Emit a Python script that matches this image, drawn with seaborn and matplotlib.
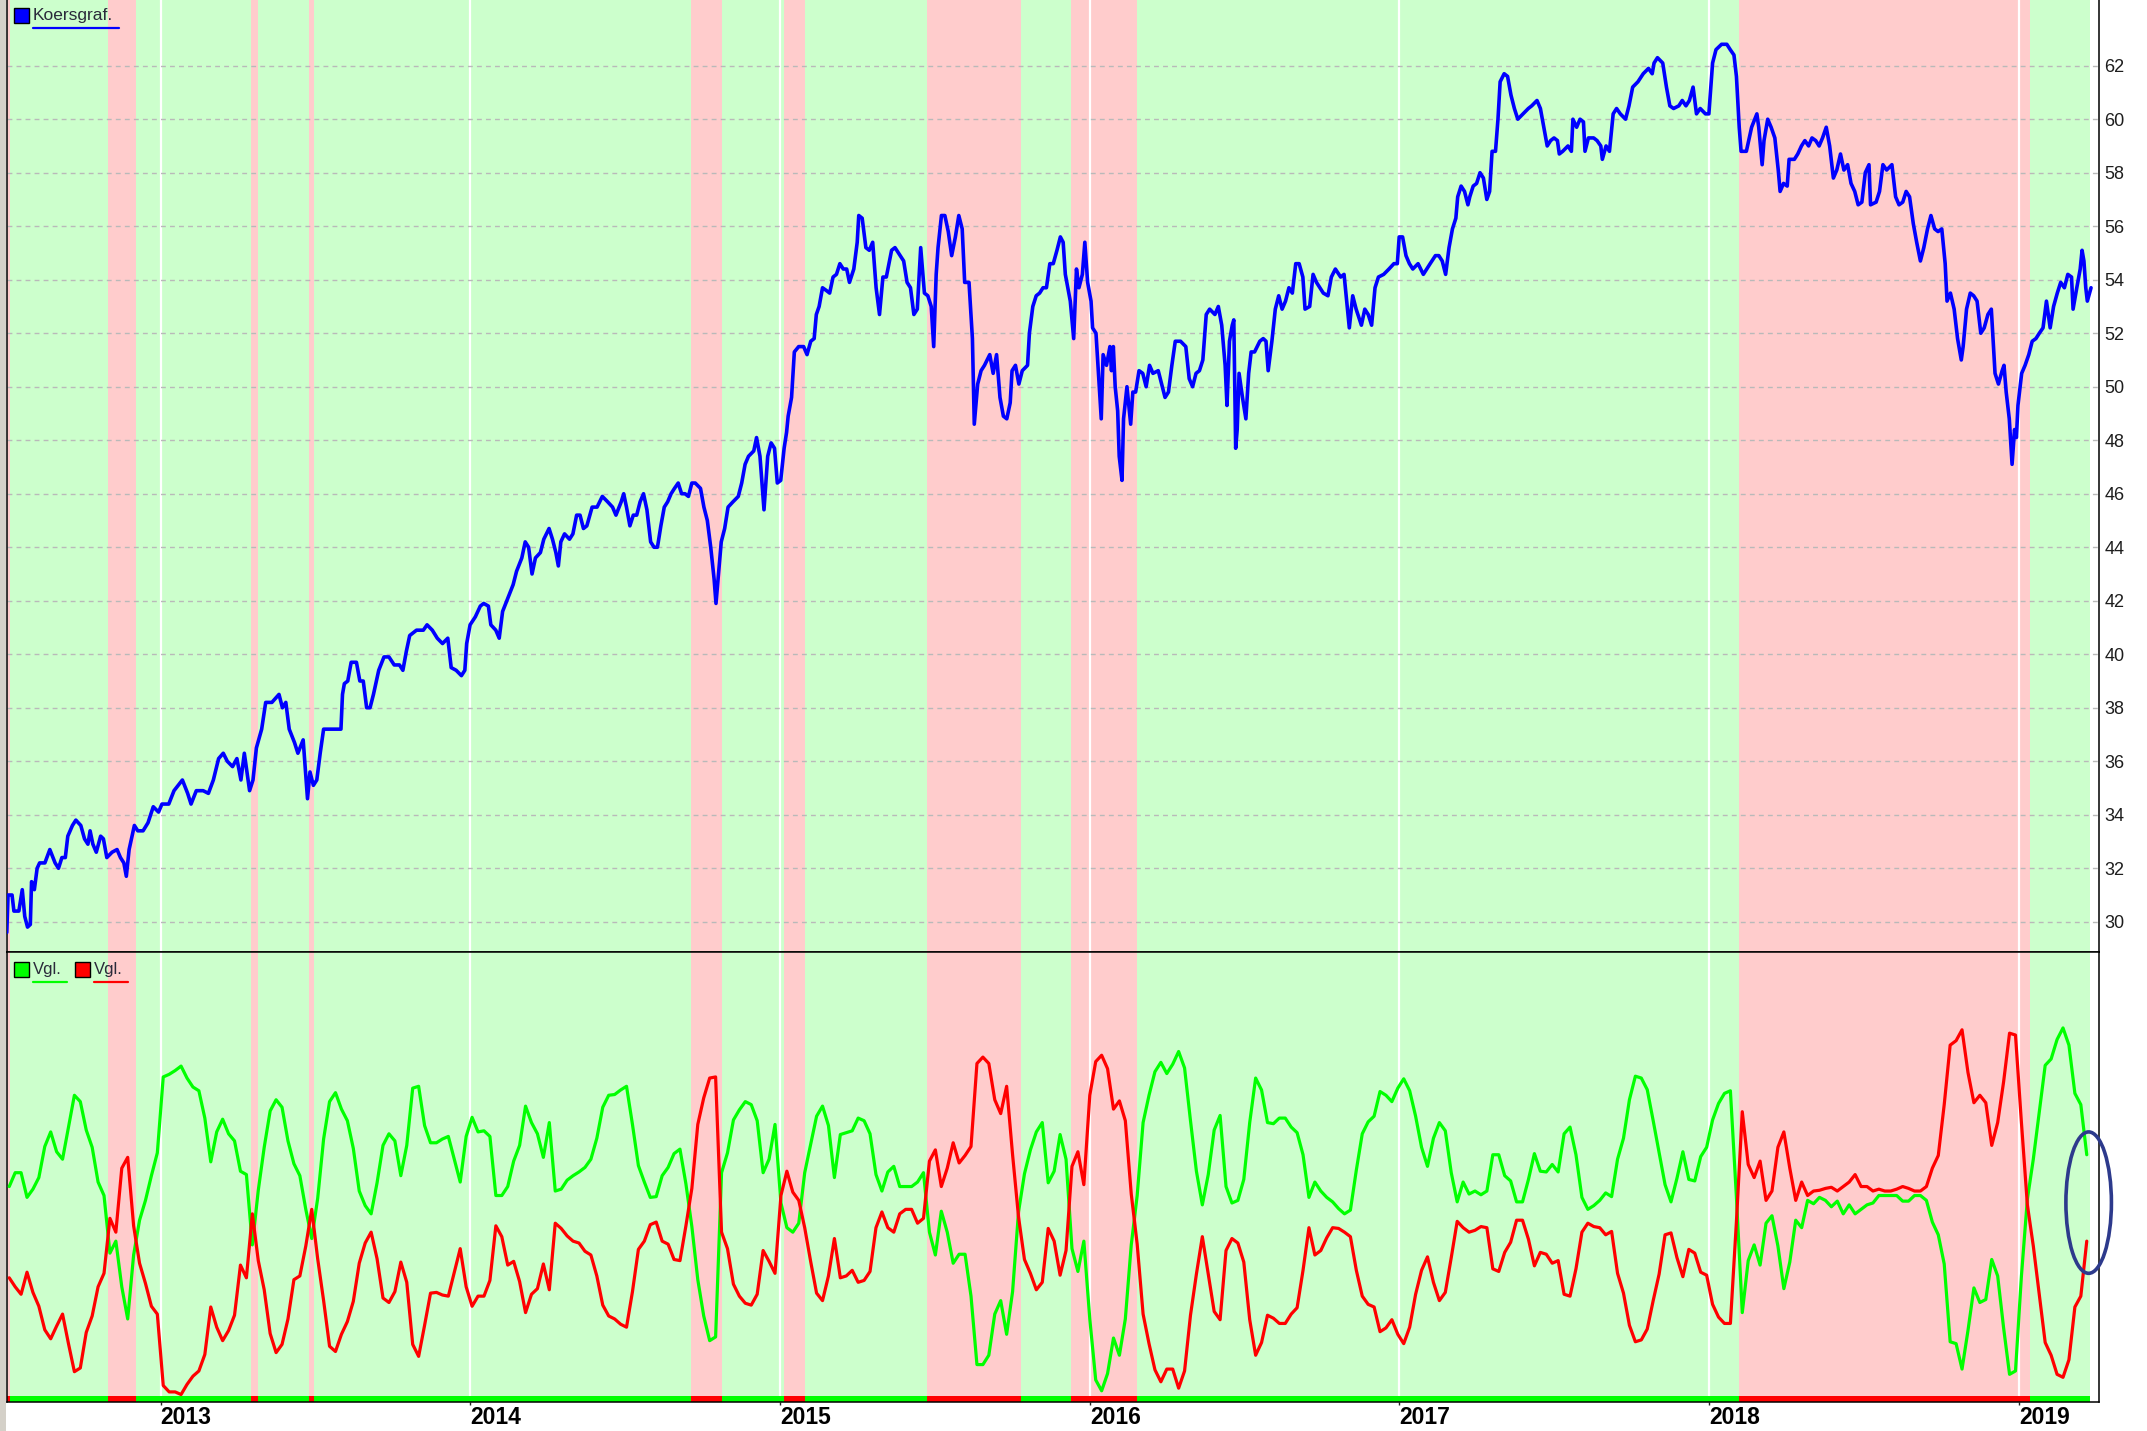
import numpy as np
import pandas as pd
import matplotlib
matplotlib.use('Agg')
import matplotlib.pyplot as plt
from matplotlib.patches import Rectangle, Ellipse
from matplotlib.lines import Line2D
import seaborn as sns

sns.set_style('white')
plt.rcParams['font.family'] = ['Liberation Sans', 'DejaVu Sans']

# ---- data ----
years = [2013, 2014, 2015, 2016, 2017, 2018, 2019]
price_ticks = list(range(30, 63, 2))

# periods with a sell signal (red background)
sell_periods = [(2012.504, 2012.513), (2012.829, 2012.920), (2013.292, 2013.313),
                (2013.479, 2013.496), (2014.713, 2014.812), (2015.011, 2015.079),
                (2015.473, 2015.777), (2015.939, 2016.153), (2018.097, 2019.035)]
signal_start = 2012.5037
signal_end = 2019.230

# koersgrafiek (decimal year, close)
price_year = [
    2012.503, 2012.507, 2012.520, 2012.526, 2012.542, 2012.553, 2012.561, 2012.570,
    2012.579, 2012.583, 2012.592, 2012.601, 2012.609, 2012.626, 2012.642, 2012.659,
    2012.670, 2012.681, 2012.692, 2012.700, 2012.715, 2012.726, 2012.742, 2012.754,
    2012.765, 2012.772, 2012.781, 2012.792, 2012.806, 2012.815, 2012.826, 2012.843,
    2012.859, 2012.870, 2012.881, 2012.889, 2012.898, 2012.915, 2012.926, 2012.943,
    2012.959, 2012.976, 2012.993, 2013.004, 2013.026, 2013.043, 2013.070, 2013.087,
    2013.098, 2013.115, 2013.137, 2013.154, 2013.170, 2013.187, 2013.202, 2013.215,
    2013.232, 2013.246, 2013.259, 2013.270, 2013.287, 2013.298, 2013.309, 2013.326,
    2013.339, 2013.359, 2013.382, 2013.393, 2013.404, 2013.415, 2013.432, 2013.443,
    2013.460, 2013.474, 2013.482, 2013.493, 2013.504, 2013.515, 2013.526, 2013.548,
    2013.571, 2013.582, 2013.587, 2013.593, 2013.604, 2013.615, 2013.632, 2013.643,
    2013.654, 2013.665, 2013.676, 2013.687, 2013.704, 2013.721, 2013.737, 2013.754,
    2013.771, 2013.782, 2013.793, 2013.804, 2013.826, 2013.848, 2013.860, 2013.877,
    2013.893, 2013.910, 2013.927, 2013.938, 2013.954, 2013.971, 2013.982, 2013.988,
    2013.999, 2014.016, 2014.032, 2014.043, 2014.058, 2014.066, 2014.082, 2014.093,
    2014.104, 2014.121, 2014.138, 2014.149, 2014.166, 2014.177, 2014.188, 2014.199,
    2014.210, 2014.226, 2014.237, 2014.254, 2014.265, 2014.276, 2014.284, 2014.292,
    2014.304, 2014.320, 2014.331, 2014.343, 2014.354, 2014.365, 2014.376, 2014.393,
    2014.409, 2014.426, 2014.443, 2014.459, 2014.470, 2014.487, 2014.495, 2014.504,
    2014.515, 2014.526, 2014.537, 2014.548, 2014.559, 2014.570, 2014.582, 2014.593,
    2014.604, 2014.615, 2014.626, 2014.637, 2014.648, 2014.659, 2014.671, 2014.682,
    2014.693, 2014.704, 2014.715, 2014.726, 2014.743, 2014.754, 2014.765, 2014.776,
    2014.787, 2014.793, 2014.802, 2014.810, 2014.821, 2014.832, 2014.848, 2014.865,
    2014.876, 2014.887, 2014.898, 2014.915, 2014.924, 2014.935, 2014.948, 2014.960,
    2014.971, 2014.982, 2014.991, 2015.002, 2015.013, 2015.021, 2015.026, 2015.037,
    2015.046, 2015.060, 2015.076, 2015.087, 2015.099, 2015.110, 2015.117, 2015.126,
    2015.137, 2015.149, 2015.160, 2015.171, 2015.182, 2015.193, 2015.204, 2015.215,
    2015.224, 2015.238, 2015.249, 2015.254, 2015.265, 2015.277, 2015.288, 2015.299,
    2015.310, 2015.321, 2015.332, 2015.343, 2015.360, 2015.371, 2015.388, 2015.399,
    2015.410, 2015.421, 2015.432, 2015.443, 2015.454, 2015.466, 2015.477, 2015.488,
    2015.496, 2015.504, 2015.510, 2015.521, 2015.532, 2015.543, 2015.554, 2015.566,
    2015.577, 2015.588, 2015.596, 2015.610, 2015.621, 2015.627, 2015.638, 2015.649,
    2015.660, 2015.677, 2015.688, 2015.699, 2015.710, 2015.721, 2015.732, 2015.743,
    2015.749, 2015.760, 2015.771, 2015.782, 2015.799, 2015.805, 2015.816, 2015.827,
    2015.838, 2015.849, 2015.860, 2015.871, 2015.882, 2015.894, 2015.905, 2015.914,
    2015.921, 2015.932, 2015.937, 2015.948, 2015.957, 2015.965, 2015.976, 2015.984,
    2015.993, 2016.004, 2016.009, 2016.020, 2016.028, 2016.037, 2016.043, 2016.054,
    2016.065, 2016.070, 2016.076, 2016.082, 2016.090, 2016.095, 2016.104, 2016.109,
    2016.120, 2016.132, 2016.139, 2016.148, 2016.159, 2016.171, 2016.182, 2016.193,
    2016.204, 2016.221, 2016.232, 2016.243, 2016.254, 2016.265, 2016.276, 2016.293,
    2016.310, 2016.321, 2016.332, 2016.343, 2016.354, 2016.365, 2016.376, 2016.387,
    2016.404, 2016.415, 2016.426, 2016.437, 2016.443, 2016.451, 2016.460, 2016.465,
    2016.471, 2016.476, 2016.482, 2016.493, 2016.504, 2016.513, 2016.521, 2016.532,
    2016.549, 2016.560, 2016.569, 2016.576, 2016.588, 2016.599, 2016.610, 2016.621,
    2016.632, 2016.643, 2016.654, 2016.665, 2016.676, 2016.688, 2016.695, 2016.710,
    2016.721, 2016.732, 2016.743, 2016.754, 2016.769, 2016.780, 2016.793, 2016.810,
    2016.821, 2016.832, 2016.838, 2016.849, 2016.860, 2016.877, 2016.888, 2016.899,
    2016.910, 2016.921, 2016.932, 2016.949, 2016.966, 2016.982, 2016.993, 2016.999,
    2017.010, 2017.021, 2017.032, 2017.043, 2017.060, 2017.077, 2017.088, 2017.099,
    2017.116, 2017.127, 2017.138, 2017.149, 2017.160, 2017.171, 2017.182, 2017.188,
    2017.199, 2017.210, 2017.221, 2017.227, 2017.238, 2017.249, 2017.260, 2017.271,
    2017.282, 2017.291, 2017.299, 2017.310, 2017.318, 2017.325, 2017.338, 2017.349,
    2017.360, 2017.371, 2017.382, 2017.399, 2017.416, 2017.427, 2017.444, 2017.455,
    2017.466, 2017.477, 2017.488, 2017.499, 2017.510, 2017.516, 2017.527, 2017.544,
    2017.555, 2017.560, 2017.572, 2017.583, 2017.594, 2017.599, 2017.610, 2017.627,
    2017.638, 2017.650, 2017.655, 2017.667, 2017.678, 2017.690, 2017.701, 2017.713,
    2017.730, 2017.741, 2017.753, 2017.770, 2017.787, 2017.804, 2017.816, 2017.822,
    2017.833, 2017.850, 2017.862, 2017.873, 2017.885, 2017.902, 2017.913, 2017.925,
    2017.936, 2017.948, 2017.959, 2017.971, 2017.988, 2017.999, 2018.011, 2018.022,
    2018.040, 2018.057, 2018.068, 2018.080, 2018.088, 2018.097, 2018.103, 2018.120,
    2018.137, 2018.154, 2018.160, 2018.171, 2018.177, 2018.189, 2018.200, 2018.212,
    2018.223, 2018.229, 2018.240, 2018.252, 2018.258, 2018.275, 2018.286, 2018.298,
    2018.309, 2018.321, 2018.332, 2018.344, 2018.355, 2018.366, 2018.378, 2018.389,
    2018.401, 2018.412, 2018.424, 2018.435, 2018.447, 2018.458, 2018.470, 2018.481,
    2018.493, 2018.504, 2018.516, 2018.521, 2018.539, 2018.550, 2018.561, 2018.573,
    2018.590, 2018.602, 2018.613, 2018.625, 2018.636, 2018.647, 2018.659, 2018.670,
    2018.682, 2018.693, 2018.705, 2018.716, 2018.728, 2018.739, 2018.751, 2018.762,
    2018.768, 2018.779, 2018.791, 2018.802, 2018.814, 2018.820, 2018.831, 2018.843,
    2018.854, 2018.865, 2018.877, 2018.888, 2018.900, 2018.911, 2018.923, 2018.934,
    2018.946, 2018.952, 2018.959, 2018.969, 2018.978, 2018.986, 2018.992, 2018.997,
    2019.009, 2019.020, 2019.032, 2019.043, 2019.055, 2019.066, 2019.078, 2019.089,
    2019.101, 2019.112, 2019.124, 2019.135, 2019.147, 2019.158, 2019.170, 2019.175,
    2019.187, 2019.198, 2019.204, 2019.210, 2019.216, 2019.221, 2019.233]
price_close = [
    29.6, 31.0, 31.0, 30.4, 30.4, 31.2, 30.2, 29.8,
    29.9, 31.5, 31.2, 32.0, 32.2, 32.2, 32.7, 32.2,
    32.0, 32.4, 32.4, 33.2, 33.6, 33.8, 33.6, 33.1,
    32.9, 33.4, 32.9, 32.6, 33.2, 33.1, 32.4, 32.6,
    32.7, 32.4, 32.2, 31.7, 32.7, 33.6, 33.4, 33.4,
    33.7, 34.3, 34.1, 34.4, 34.4, 34.9, 35.3, 34.8,
    34.4, 34.9, 34.9, 34.8, 35.3, 36.1, 36.3, 36.0,
    35.8, 36.1, 35.3, 36.3, 34.9, 35.3, 36.5, 37.2,
    38.2, 38.2, 38.5, 38.0, 38.2, 37.2, 36.7, 36.3,
    36.8, 34.6, 35.6, 35.1, 35.3, 36.3, 37.2, 37.2,
    37.2, 37.2, 38.5, 38.9, 39.0, 39.7, 39.7, 39.0,
    39.0, 38.0, 38.0, 38.5, 39.4, 39.9, 39.9, 39.6,
    39.6, 39.4, 40.1, 40.7, 40.9, 40.9, 41.1, 40.9,
    40.6, 40.4, 40.6, 39.5, 39.4, 39.2, 39.4, 40.4,
    41.1, 41.4, 41.8, 41.9, 41.8, 41.1, 40.9, 40.6,
    41.6, 42.1, 42.6, 43.1, 43.6, 44.2, 44.0, 43.0,
    43.6, 43.8, 44.3, 44.7, 44.3, 43.8, 43.3, 44.2,
    44.5, 44.3, 44.5, 45.2, 45.2, 44.7, 44.8, 45.5,
    45.5, 45.9, 45.7, 45.5, 45.2, 45.7, 46.0, 45.5,
    44.8, 45.2, 45.2, 45.7, 46.0, 45.4, 44.2, 44.0,
    44.0, 44.8, 45.5, 45.7, 46.0, 46.2, 46.4, 46.0,
    46.0, 45.9, 46.4, 46.4, 46.2, 45.5, 45.0, 44.0,
    42.8, 41.9, 43.1, 44.2, 44.7, 45.5, 45.7, 45.9,
    46.4, 47.1, 47.4, 47.6, 48.1, 47.4, 45.4, 47.4,
    47.9, 47.7, 46.4, 46.5, 47.7, 48.3, 48.9, 49.6,
    51.3, 51.5, 51.5, 51.2, 51.7, 51.8, 52.7, 53.0,
    53.7, 53.6, 53.5, 54.1, 54.2, 54.6, 54.4, 54.4,
    53.9, 54.4, 55.4, 56.4, 56.3, 55.2, 55.1, 55.4,
    53.7, 52.7, 54.1, 54.1, 55.1, 55.2, 54.9, 54.7,
    53.9, 53.7, 52.7, 52.9, 55.2, 53.5, 53.4, 53.0,
    51.5, 54.2, 55.2, 56.4, 56.4, 55.8, 54.9, 55.6,
    56.4, 55.9, 53.9, 53.9, 51.8, 48.6, 50.1, 50.6,
    50.8, 51.2, 50.5, 51.2, 49.6, 48.9, 48.8, 49.4,
    50.6, 50.8, 50.1, 50.6, 50.8, 52.0, 53.0, 53.4,
    53.5, 53.7, 53.7, 54.6, 54.6, 55.1, 55.6, 55.4,
    54.2, 53.5, 53.2, 51.8, 54.4, 53.7, 54.2, 55.4,
    53.9, 53.2, 52.2, 52.0, 50.5, 48.8, 51.2, 50.8,
    51.5, 50.6, 51.5, 50.0, 49.1, 47.4, 46.5, 48.8,
    50.0, 48.6, 49.8, 49.8, 50.6, 50.5, 50.0, 50.8,
    50.5, 50.6, 50.1, 49.6, 49.8, 50.8, 51.7, 51.7,
    51.5, 50.3, 50.0, 50.5, 50.6, 51.0, 52.7, 52.9,
    52.7, 53.0, 52.3, 50.8, 49.3, 51.7, 52.3, 52.5,
    47.7, 48.4, 50.5, 49.6, 48.8, 50.5, 51.3, 51.3,
    51.7, 51.8, 51.7, 50.6, 51.7, 52.9, 53.4, 52.9,
    53.2, 53.7, 53.5, 54.6, 54.6, 54.1, 52.9, 53.0,
    54.2, 53.9, 53.7, 53.5, 53.4, 54.1, 54.4, 54.1,
    54.2, 52.9, 52.2, 53.4, 52.9, 52.3, 52.9, 52.7,
    52.3, 53.7, 54.1, 54.2, 54.4, 54.6, 54.6, 55.6,
    55.6, 54.9, 54.6, 54.4, 54.6, 54.2, 54.4, 54.6,
    54.9, 54.9, 54.7, 54.2, 55.2, 55.9, 56.3, 57.1,
    57.5, 57.3, 56.8, 57.1, 57.5, 57.6, 58.0, 57.8,
    57.0, 57.3, 58.8, 58.8, 60.0, 61.4, 61.7, 61.6,
    60.9, 60.4, 60.0, 60.2, 60.4, 60.5, 60.7, 60.4,
    59.7, 59.0, 59.2, 59.3, 59.2, 58.7, 58.8, 59.0,
    58.8, 60.0, 59.7, 60.0, 59.9, 58.8, 59.3, 59.3,
    59.2, 59.0, 58.5, 59.0, 58.8, 60.2, 60.4, 60.2,
    60.0, 60.5, 61.2, 61.4, 61.7, 61.9, 61.7, 62.1,
    62.3, 62.1, 61.2, 60.5, 60.4, 60.5, 60.7, 60.5,
    60.7, 61.2, 60.2, 60.4, 60.2, 60.2, 62.1, 62.6,
    62.8, 62.8, 62.6, 62.4, 61.6, 59.7, 58.8, 58.8,
    59.7, 60.2, 59.7, 58.3, 59.2, 60.0, 59.7, 59.3,
    58.1, 57.3, 57.6, 57.5, 58.5, 58.5, 58.7, 59.0,
    59.2, 59.0, 59.3, 59.2, 59.0, 59.3, 59.7, 59.0,
    57.8, 58.1, 58.7, 58.1, 58.3, 57.6, 57.3, 56.8,
    56.9, 58.0, 58.3, 56.8, 56.9, 57.3, 58.3, 58.1,
    58.3, 57.1, 56.8, 56.9, 57.3, 57.1, 56.1, 55.4,
    54.7, 55.2, 55.9, 56.4, 55.9, 55.8, 55.9, 54.6,
    53.2, 53.5, 52.9, 51.8, 51.0, 51.5, 52.9, 53.5,
    53.4, 53.2, 52.0, 52.2, 52.7, 52.9, 50.5, 50.1,
    50.6, 50.8, 49.8, 48.8, 47.1, 48.4, 48.1, 49.3,
    50.5, 50.8, 51.2, 51.7, 51.8, 52.0, 52.2, 53.2,
    52.2, 53.0, 53.5, 53.9, 53.7, 54.2, 54.1, 52.9,
    53.7, 54.4, 55.1, 54.7, 53.7, 53.2, 53.7]

# weekly comparison indicator (Vgl.), one value per Friday from 2012-07-06
vgl_start = '2012-07-06'
vgl_green = [
    56.1, 59.8, 59.8, 53.2, 55.4, 58.5, 66.8, 70.7, 65.4, 63.4,
    72.0, 80.5, 78.8, 71.2, 66.6, 57.3, 53.7, 38.3, 41.5, 29.3,
    20.7, 37.8, 47.1, 52.4, 59.0, 65.1, 85.4, 86.1, 87.1, 88.3,
    85.1, 82.7, 81.7, 74.4, 62.7, 70.7, 74.1, 70.2, 68.3, 60.2,
    59.3, 40.5, 55.1, 66.6, 76.3, 79.3, 77.3, 68.3, 62.2, 59.0,
    50.0, 42.2, 52.9, 68.8, 78.8, 81.2, 76.8, 73.7, 66.3, 54.9,
    51.0, 48.8, 57.1, 67.1, 70.2, 68.3, 59.0, 67.1, 82.4, 82.9,
    72.4, 67.8, 67.8, 68.8, 69.5, 63.4, 57.3, 69.5, 74.6, 70.7,
    71.0, 69.5, 53.7, 53.7, 56.1, 62.9, 67.1, 77.6, 73.2, 70.2,
    63.9, 73.2, 54.9, 55.4, 57.8, 59.0, 60.0, 61.2, 63.4, 69.0,
    77.3, 80.5, 80.7, 81.9, 82.9, 72.7, 61.7, 57.3, 53.2, 53.4,
    59.0, 61.2, 64.9, 66.1, 56.8, 45.4, 31.2, 21.5, 14.9, 15.9,
    59.8, 65.1, 73.9, 76.6, 78.8, 78.0, 73.7, 59.8, 63.4, 72.7,
    51.7, 45.1, 43.9, 46.3, 59.8, 67.3, 74.9, 77.6, 72.4, 58.5,
    70.0, 70.5, 71.0, 74.4, 73.7, 70.2, 59.3, 54.9, 60.0, 61.5,
    56.1, 56.1, 56.1, 57.3, 59.8, 43.9, 37.8, 49.5, 43.9, 35.6,
    38.0, 38.0, 26.8, 8.5, 8.5, 11.0, 22.0, 25.6, 16.6, 28.0,
    49.3, 59.5, 65.9, 70.7, 73.2, 57.1, 60.2, 70.0, 63.4, 39.5,
    33.4, 41.5, 20.7, 4.4, 1.5, 6.1, 15.6, 11.0, 20.7, 40.5,
    53.7, 73.2, 80.5, 86.8, 89.3, 86.3, 88.8, 92.2, 87.8, 73.7,
    60.2, 51.2, 59.3, 71.2, 75.1, 56.1, 51.7, 52.4, 58.0, 73.2,
    85.1, 81.9, 73.2, 72.9, 74.4, 74.4, 72.0, 70.5, 64.6, 53.2,
    57.3, 54.9, 53.2, 52.0, 50.2, 48.8, 49.8, 60.5, 70.2, 73.4,
    74.9, 81.5, 80.5, 78.8, 82.4, 84.9, 81.7, 74.9, 66.6, 61.5,
    69.0, 73.2, 71.0, 59.8, 52.0, 57.3, 54.1, 54.9, 53.9, 54.9,
    64.6, 64.6, 59.0, 57.6, 52.0, 52.0, 58.0, 64.9, 60.2, 60.0,
    62.0, 60.0, 70.2, 72.0, 64.6, 53.2, 50.0, 51.0, 52.4, 54.4,
    53.4, 63.4, 69.0, 79.3, 85.6, 85.1, 82.0, 73.7, 65.1, 56.6,
    52.0, 58.3, 65.4, 58.0, 57.6, 64.1, 66.6, 73.9, 78.3, 81.0,
    81.7, 53.7, 22.4, 36.3, 40.5, 35.1, 46.3, 48.3, 40.2, 28.8,
    35.9, 47.1, 45.1, 52.4, 51.5, 53.2, 52.4, 50.7, 52.2, 48.8,
    51.2, 48.8, 50.0, 51.2, 51.7, 53.7, 53.7, 53.7, 53.7, 52.2,
    52.2, 53.7, 53.7, 52.4, 46.6, 43.2, 35.4, 14.6, 14.1, 7.3,
    17.6, 29.0, 25.1, 25.9, 36.6, 32.2, 18.3, 5.9, 6.8, 32.2,
    52.7, 63.4, 75.9, 88.5, 90.2, 95.4, 98.5, 93.9, 81.0, 78.0, 64.6]
vgl_red = [
    31.7, 29.3, 27.3, 33.2, 27.8, 24.1, 17.8, 15.4, 18.8, 22.0,
    14.1, 6.6, 7.6, 17.1, 21.5, 29.3, 32.9, 47.6, 43.9, 61.0,
    63.9, 45.6, 35.6, 30.2, 24.1, 22.0, 2.9, 1.2, 1.2, 0.5,
    3.2, 5.4, 6.8, 11.2, 23.9, 18.5, 14.9, 17.6, 21.7, 35.1,
    31.7, 48.8, 36.3, 28.5, 16.8, 11.7, 13.9, 20.7, 31.2, 32.2,
    40.2, 50.0, 36.8, 25.6, 13.4, 12.0, 16.6, 20.0, 25.4, 35.6,
    41.0, 43.9, 36.8, 26.3, 25.1, 28.0, 35.9, 30.5, 13.9, 10.7,
    19.0, 27.6, 27.8, 27.1, 26.8, 33.2, 39.5, 29.3, 24.1, 26.8,
    26.8, 31.0, 45.6, 42.7, 35.1, 36.1, 30.7, 22.4, 27.3, 28.8,
    35.4, 28.5, 46.3, 44.9, 42.9, 41.5, 41.0, 38.8, 37.8, 32.2,
    24.4, 21.5, 20.7, 19.3, 18.5, 28.0, 39.3, 41.5, 45.9, 46.6,
    41.5, 40.7, 36.6, 36.3, 45.6, 55.6, 72.7, 79.8, 85.1, 85.4,
    43.9, 39.5, 30.0, 26.8, 24.9, 24.4, 27.3, 39.0, 36.1, 32.9,
    53.7, 60.2, 54.6, 52.4, 45.1, 36.1, 27.6, 25.6, 32.2, 42.2,
    31.7, 32.2, 33.7, 30.5, 31.0, 33.4, 45.1, 49.3, 45.1, 43.9,
    48.8, 50.0, 50.0, 46.3, 47.6, 62.9, 65.9, 56.1, 61.0, 67.8,
    62.4, 64.4, 66.8, 89.0, 90.7, 89.0, 79.3, 75.6, 82.9, 64.6,
    48.0, 36.6, 32.9, 28.5, 30.5, 44.9, 41.5, 32.4, 39.0, 61.5,
    65.4, 56.6, 80.5, 89.5, 91.2, 87.6, 76.8, 79.0, 73.7, 54.1,
    40.7, 22.0, 14.1, 7.1, 3.9, 7.3, 7.3, 2.2, 6.8, 21.7,
    32.7, 42.7, 32.7, 22.7, 20.5, 39.0, 42.2, 41.0, 35.9, 20.5,
    11.0, 14.4, 21.7, 20.9, 19.5, 19.5, 22.0, 23.7, 33.7, 45.1,
    37.8, 39.0, 42.4, 45.1, 44.9, 43.9, 42.7, 33.7, 26.8, 24.6,
    23.9, 17.3, 18.3, 20.5, 16.6, 14.1, 18.5, 27.3, 33.7, 37.3,
    30.5, 25.6, 27.8, 37.1, 46.8, 45.1, 43.9, 44.4, 45.4, 45.1,
    34.1, 33.4, 38.5, 41.2, 47.1, 47.1, 42.0, 34.9, 38.5, 38.0,
    35.6, 36.3, 27.3, 26.8, 34.1, 43.9, 46.3, 45.4, 45.1, 43.2,
    44.1, 32.9, 27.6, 19.0, 14.6, 15.1, 18.0, 25.6, 32.7, 43.2,
    43.7, 37.1, 32.0, 39.3, 38.3, 33.2, 32.4, 24.6, 21.2, 19.5,
    19.5, 46.3, 76.1, 62.0, 58.5, 62.9, 52.4, 54.9, 66.6, 70.7,
    61.0, 52.4, 57.3, 53.7, 54.9, 55.1, 55.6, 55.9, 54.9, 56.1,
    57.3, 59.3, 56.1, 56.1, 54.9, 55.4, 54.9, 54.9, 55.4, 56.1,
    55.6, 54.9, 54.9, 56.1, 61.0, 64.4, 78.0, 93.9, 95.1, 98.0,
    86.6, 78.5, 80.5, 78.5, 67.1, 73.2, 84.1, 97.1, 96.6, 73.2,
    51.2, 40.2, 27.3, 14.4, 11.0, 5.9, 5.1, 9.8, 23.9, 26.8, 41.5]

# ---- build x values for the indicator ----
vgl_dates = pd.date_range(vgl_start, periods=len(vgl_green), freq='7D')
days_in_year = np.where(vgl_dates.is_leap_year, 366, 365)
vgl_year = np.asarray(vgl_dates.year + (vgl_dates.dayofyear - 1) / days_in_year, dtype=float)

# ---- figure ----
W, H = 2147, 1431
fig = plt.figure(figsize=(W / 100, H / 100), dpi=100)
fig.patch.set_facecolor('white')


def fx(x):
    return x / W


def fy(y):
    return 1 - y / H


ax1 = fig.add_axes([fx(7), fy(952), fx(2099) - fx(7), fy(0) - fy(952)])
ax2 = fig.add_axes([fx(7), fy(1402), fx(2099) - fx(7), fy(952) - fy(1402)])

x_lo, x_hi = 2012.5037, 2019.2587
light_green, light_red = '#ccffcc', '#ffcccc'

for ax in (ax1, ax2):
    ax.set_facecolor('white')
    ax.axvspan(signal_start, signal_end, color=light_green, lw=0, zorder=0)
    for a, b in sell_periods:
        ax.axvspan(a, b, color=light_red, lw=0, zorder=0.5)
    for yr in years:
        ax.axvline(yr, color='white', lw=1.6, zorder=1)
    ax.set_xlim(x_lo, x_hi)
    for side in ('left', 'right', 'bottom', 'top'):
        ax.spines[side].set_color('black')
        ax.spines[side].set_linewidth(1.1)

# price panel
for v in price_ticks:
    ax1.axhline(v, color='#b9b9b9', lw=1.0, ls=(0, (3.5, 3)), zorder=1.5)
sns.lineplot(x=price_year, y=price_close, ax=ax1, color='#0000ff', linewidth=2.6,
             estimator=None, sort=False, zorder=3)
ax1.set_ylim(28.87, 64.456)
ax1.spines['top'].set_visible(False)
ax1.yaxis.tick_right()
ax1.set_yticks(price_ticks)
ax1.set_yticklabels([str(v) for v in price_ticks])
ax1.tick_params(axis='y', length=0, pad=4, labelsize=13, labelcolor='#1e1e1e')
ax1.set_xticks([])
ax1.set_xlabel('')
ax1.set_ylabel('')

# indicator panel
sns.lineplot(x=vgl_year, y=vgl_green, ax=ax2, color='#00ff00', linewidth=2.3,
             estimator=None, sort=False, zorder=3)
sns.lineplot(x=vgl_year, y=vgl_red, ax=ax2, color='#ff0000', linewidth=2.3,
             estimator=None, sort=False, zorder=3.1)
ax2.set_ylim(-1.5, 118.8)
ax2.set_yticks([])
ax2.set_ylabel('')
ax2.set_xlabel('')

# signal strip along the bottom
ax2.axvspan(signal_start, signal_end, ymin=0, ymax=0.0135, color='#00ff00', lw=0, zorder=2)
for a, b in sell_periods:
    ax2.axvspan(a, b, ymin=0, ymax=0.0135, color='#ff0000', lw=0, zorder=2.1)

ax2.set_xticks(years)
ax2.set_xticklabels([str(y) for y in years], fontsize=16.5, fontweight='bold')
for lab in ax2.get_xticklabels():
    lab.set_horizontalalignment('left')
ax2.tick_params(axis='x', length=2.5, width=1, pad=0.5, direction='out',
                bottom=True, labelcolor='black')

# blue ellipse marking the latest values
ax2.add_patch(Ellipse((2019.2253, 51.8), width=0.147, height=37.8, fill=False,
                      edgecolor='#2d3a8c', lw=2.6, clip_on=False, zorder=6))

# grey window edge on the left
fig.add_artist(Rectangle((0, 0), fx(6), 1, transform=fig.transFigure,
                         facecolor='#d4d0c8', edgecolor='none', zorder=0))

# legends


def legend_item(x0, y0, size, color, text, text_x, line_end, line_y, fsize):
    fig.add_artist(Rectangle((fx(x0), fy(y0 + size)), fx(size), size / H,
                             transform=fig.transFigure, facecolor=color,
                             edgecolor='black', lw=1.0, zorder=10))
    fig.text(fx(text_x), fy(y0 + size / 2), text, fontsize=fsize, color='#2a2a3a',
             va='center', ha='left', zorder=10)
    fig.add_artist(Line2D([fx(text_x), fx(line_end)], [fy(line_y), fy(line_y)],
                          transform=fig.transFigure, color=color, lw=1.6, zorder=10))


legend_item(14, 8, 15, '#0000ff', 'Koersgraf.', 33, 119, 28, 12.5)
legend_item(14, 962, 15, '#00ff00', 'Vgl.', 33, 67, 982, 12)
legend_item(75, 962, 15, '#ff0000', 'Vgl.', 94, 128, 982, 12)

fig.savefig('out.png', dpi=100, facecolor='white')
